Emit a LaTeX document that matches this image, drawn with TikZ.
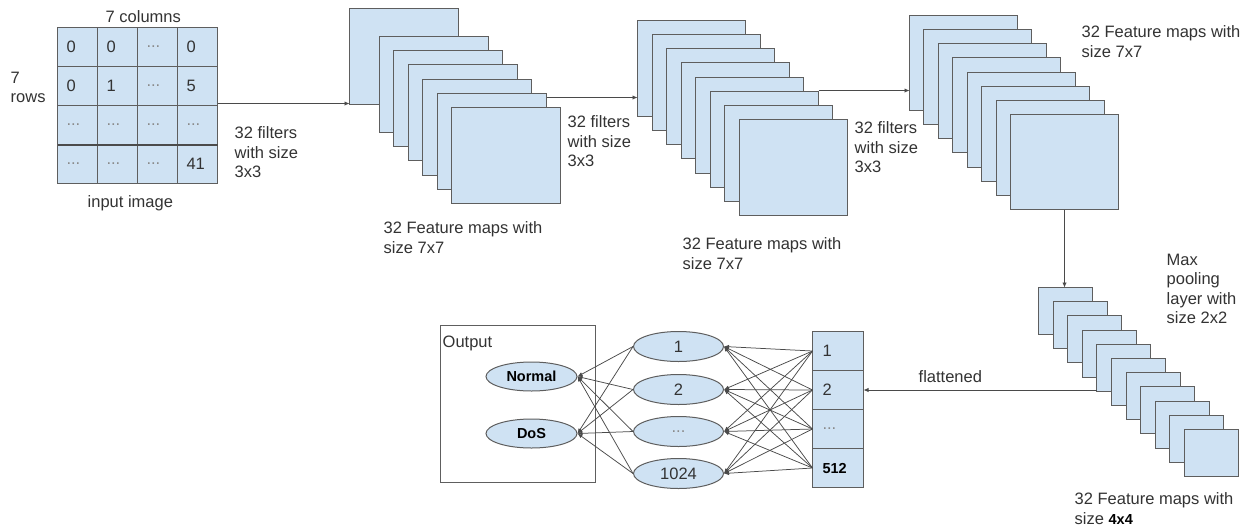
\documentclass[tikz,border=0pt]{standalone}
\usepackage{fontspec}
\setmainfont{Liberation Sans}
\usetikzlibrary{shapes.geometric,arrows.meta}
\definecolor{boxfill}{HTML}{CFE2F3}
\definecolor{boxline}{HTML}{5E5E5E}
\definecolor{txt}{HTML}{333333}
\definecolor{dotgray}{HTML}{8A8A8A}
\definecolor{wire}{HTML}{4A4A4A}
\newcommand{\gdots}{\textcolor{dotgray}{...}}
\newcommand{\boldlbl}[1]{{\fontsize{14.5}{17}\selectfont\bfseries\color{black}#1}}

\begin{document}
\begin{tikzpicture}[x=1pt,y=-1pt,
  every node/.style={text=txt, font=\fontsize{16.5}{19.5}\selectfont},
  fmap/.style={draw=boxline, fill=boxfill, line width=1pt, inner sep=0pt, outer sep=0pt, anchor=north west},
  cellbox/.style={draw=boxline, fill=boxfill, line width=1pt, inner ysep=0pt, outer sep=0pt, anchor=north west, align=left},
  gcell/.style={cellbox, minimum height=39pt, text width=22pt, inner xsep=9pt},
  vcell/.style={cellbox, minimum height=39pt, text width=31pt, inner xsep=10pt},
  neuron/.style={ellipse, draw=boxline, fill=boxfill, line width=1pt, inner sep=0pt, minimum width=90pt, minimum height=30pt},
  lbl/.style={inner sep=0pt, align=left, anchor=north west},
  baselbl/.style={inner sep=0pt, anchor=base west},
  arr/.style={draw=wire, line width=0.9pt, -{Latex[length=5pt,width=4.5pt]}},
  wireline/.style={draw=wire, line width=0.75pt, -{Latex[length=5pt,width=4pt]}},
]
\fill[white] (0,0) rectangle (1250,528);
\useasboundingbox (0,0) rectangle (1250,528);

\begin{scope}[shift={(0.5,0.5)}]
% ---- input image grid ----
\node[gcell] (g-1-1) at (57,27) {0};
\node[gcell] (g-1-2) at (97,27) {0};
\node[gcell] (g-1-3) at (137,27) {\gdots};
\node[gcell] (g-1-4) at (177,27) {0};
\node[gcell] (g-2-1) at (57,66) {0};
\node[gcell] (g-2-2) at (97,66) {1};
\node[gcell] (g-2-3) at (137,66) {\gdots};
\node[gcell] (g-2-4) at (177,66) {5};
\node[gcell] (g-3-1) at (57,105) {\gdots};
\node[gcell] (g-3-2) at (97,105) {\gdots};
\node[gcell] (g-3-3) at (137,105) {\gdots};
\node[gcell] (g-3-4) at (177,105) {\gdots};
\node[gcell] (g-4-1) at (57,144) {\gdots};
\node[gcell] (g-4-2) at (97,144) {\gdots};
\node[gcell] (g-4-3) at (137,144) {\gdots};
\node[gcell] (g-4-4) at (177,144) {41};
\draw[draw=boxline!80!black, line width=2pt] (g-4-1.north west) -- (g-4-4.north east);

\node[lbl] (cols) at (105,10) {7 columns};
\node[lbl] (rows) at (10,71) {7\\rows};
\node[baselbl] (inimg) at (87,207) {input image};

% ---- first convolution: 7 maps ----
\node[fmap, minimum width=109pt, minimum height=96pt] (s1-1) at (349,8) {};
\foreach \j in {2,...,7}
  \node[fmap, minimum width=109pt, minimum height=96pt] (s1-\j) at ({round(379+14.4*(\j-2))}, {round(36+14.2*(\j-2))}) {};
\node[lbl] (f1) at (234,126) {32 filters\\with size\\3x3};
\node[lbl] (m1) at (383,221) {32 Feature maps with\\size 7x7};

% ---- second convolution: 8 maps ----
\foreach \j in {1,...,8}
  \node[fmap, minimum width=108pt, minimum height=96pt] (s2-\j) at ({round(637+14.57*(\j-1))}, {round(20+14.14*(\j-1))}) {};
\node[lbl] (f2) at (567,115) {32 filters\\with size\\3x3};
\node[lbl] (m2) at (682,237) {32 Feature maps with\\size 7x7};

% ---- third convolution: 8 maps ----
\foreach \j in {1,...,8}
  \node[fmap, minimum width=108pt, minimum height=95pt] (s3-\j) at ({round(909+14.43*(\j-1))}, {round(15+14.14*(\j-1))}) {};
\node[lbl] (f3) at (854,121) {32 filters\\with size\\3x3};
\node[lbl] (m3) at (1081,25) {32 Feature maps with\\size 7x7};

% ---- max pooling: 11 small maps ----
\foreach \j in {1,...,11}
  \node[fmap, minimum width=54pt, minimum height=47pt] (p-\j) at ({round(1038+14.6*(\j-1))}, {round(287+14.2*(\j-1))}) {};
\node[lbl] (pool) at (1166,253) {Max\\pooling\\layer with\\size 2x2};
\node[lbl] (m4) at (1074,492) {32 Feature maps with\\size \boldlbl{4x4}};

% ---- flattened vector ----
\node[vcell] (v1) at (812,331) {1};
\node[vcell] (v2) at (812,370) {2};
\node[vcell] (v3) at (812,409) {\gdots};
\node[vcell] (v4) at (812,448) {\boldlbl{512}};
\node[baselbl] (flat) at (918,382) {flattened};

% ---- dense layer ----
\node[neuron] (h1) at (678,346) {1};
\node[neuron] (h2) at (678,389) {2};
\node[neuron] (h3) at (678,431) {\gdots};
\node[neuron] (h4) at (678,473) {1024};

% ---- output ----
\node[draw=boxline, line width=1pt, inner sep=0pt, minimum width=155pt, minimum height=157pt, anchor=north west] (outbox) at (439,324) {};
\node[baselbl] (outlbl) at (442,347) {Output};
\node[neuron, minimum width=91pt, minimum height=29pt] (o1) at (531,376) {\boldlbl{Normal}};
\node[neuron, minimum width=91pt, minimum height=29pt] (o2) at (531,433) {\boldlbl{DoS}};

% ---- fully connected wiring ----
\foreach \i in {1,...,4}
  \foreach \j in {1,...,4}
    \draw[wireline] (v\i.west) -- (h\j.east);
\foreach \j in {1,...,4}
  \foreach \k in {1,2}
    \draw[wireline] (h\j.west) -- (o\k.east);

% ---- flow arrows ----
\coordinate (a1) at ([yshift=2pt]g-3-4.north east);
\draw[arr] (a1) -- (a1 -| s1-1.west);
\coordinate (a2) at ([yshift=-4pt]s1-6.north east);
\draw[arr] (a2) -- (a2 -| s2-1.west);
\coordinate (a3) at ([yshift=1pt]s2-6.north east);
\draw[arr] (a3) -- (a3 -| s3-1.west);
\draw[arr] (s3-8.south) -- (s3-8.south |- p-1.north);
\draw[arr] (v2.east -| p-5.west) -- (v2.east);
\end{scope}
\end{tikzpicture}
\end{document}
